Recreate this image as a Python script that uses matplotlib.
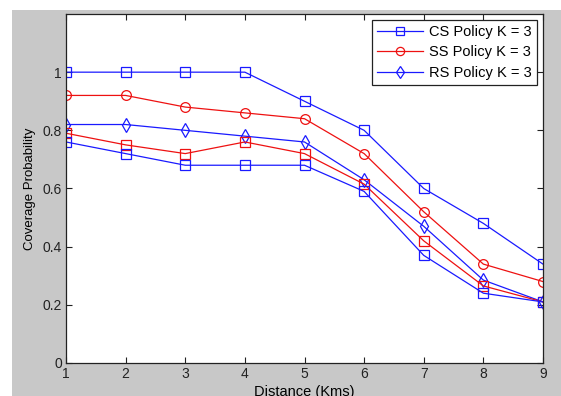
import matplotlib
matplotlib.use("Agg")
import matplotlib.pyplot as plt
from matplotlib.patches import Rectangle

plt.rcParams['font.family'] = ['Liberation Sans', 'DejaVu Sans']

distance = [1, 2, 3, 4, 5, 6, 7, 8, 9]

# legend series
cs_policy = [1.0, 1.0, 1.0, 1.0, 0.90, 0.80, 0.60, 0.48, 0.34]
ss_policy = [0.92, 0.92, 0.88, 0.86, 0.84, 0.72, 0.52, 0.34, 0.28]
rs_policy = [0.82, 0.82, 0.80, 0.78, 0.76, 0.63, 0.47, 0.285, 0.21]

# extra unlabelled curves
red_low = [0.79, 0.75, 0.72, 0.76, 0.72, 0.615, 0.42, 0.265, 0.21]
blue_low = [0.76, 0.72, 0.68, 0.68, 0.68, 0.59, 0.37, 0.24, 0.21]

blue = '#1a1aff'
red = '#ee1111'

fig = plt.figure(figsize=(5.61, 3.96), dpi=100, facecolor='white')
# grey matlab window background
fig.patches.append(Rectangle((12 / 561, 0), 1 - 12 / 561, 386 / 396,
                             transform=fig.transFigure, facecolor='#c8c8c8',
                             edgecolor='none', zorder=-1))

ax = fig.add_axes([66 / 561, 33 / 396, 477 / 561, 349 / 396])

mk = dict(markersize=7, markerfacecolor='none', linewidth=0.9, markeredgewidth=0.9)
ax.plot(distance, cs_policy, '-s', color=blue, label='CS Policy K = 3', **mk)
ax.plot(distance, ss_policy, '-o', color=red, label='SS Policy K = 3', **mk)
ax.plot(distance, rs_policy, '-d', color=blue, label='RS Policy K = 3', **mk)
ax.plot(distance, red_low, '-s', color=red, **mk)
ax.plot(distance, blue_low, '-s', color=blue, **mk)

ax.set_xlim(1, 9)
ax.set_ylim(0, 1.2)
ax.set_xticks(distance)
ax.set_yticks([0, 0.2, 0.4, 0.6, 0.8, 1.0])
ax.set_yticklabels(['0', '0.2', '0.4', '0.6', '0.8', '1'])
ax.tick_params(direction='in', top=True, right=True, length=4, labelsize=10,
               colors='#222222', pad=3)
for s in ax.spines.values():
    s.set_linewidth(0.9)
    s.set_color('#222222')

# the original screenshot clips the bottom of this label
ax.set_xlabel('Distance (Kms)', fontsize=10.5, labelpad=3)
ax.set_ylabel('Coverage Probability', fontsize=9.5, labelpad=5)

leg = ax.legend(loc='upper right', fontsize=10.5, fancybox=False, framealpha=1,
                edgecolor='#222222', borderpad=0.35, labelspacing=0.45,
                handlelength=3.2, handletextpad=0.4, borderaxespad=0.4,
                markerscale=0.85)
leg.get_frame().set_linewidth(0.9)

fig.savefig('out.png', dpi=100, facecolor=fig.get_facecolor())
